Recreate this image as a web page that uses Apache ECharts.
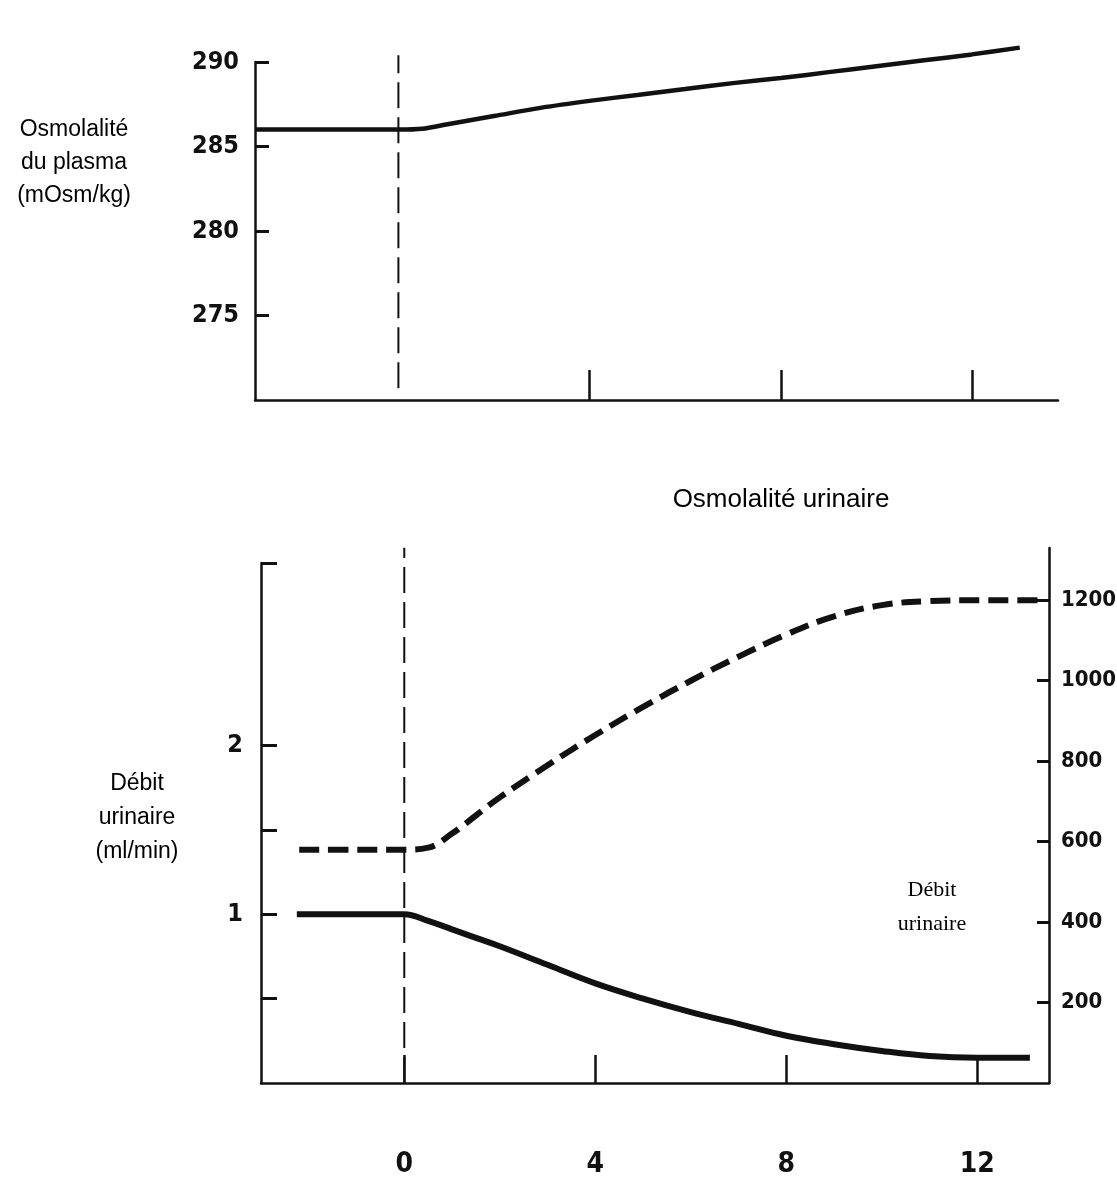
<!DOCTYPE html>
<html>
<head>
<meta charset="utf-8">
<script src="https://cdn.jsdelivr.net/npm/echarts@6/dist/echarts.min.js"></script>
<style>
html,body{margin:0;padding:0;background:#fff;}
#chart{width:1117px;height:1191px;}
</style>
</head>
<body>
<div id="chart"></div>
<script>
// ---- data ----
const timeTop = [-3, -2, -1, 0, 0.5, 1, 2, 3, 4, 5, 6, 7, 8, 9, 10, 11, 12, 13];
const plasmaOsm = [286, 286, 286, 286, 286.05, 286.3, 286.8, 287.3, 287.7, 288.05, 288.4, 288.75, 289.05, 289.4, 289.75, 290.1, 290.45, 290.85];

const timeFlow = [-2.25, -1, 0, 0.5, 1, 1.5, 2, 3, 4, 5, 6, 7, 8, 9, 10, 11, 12, 13.1];
const urineFlow = [1, 1, 1, 0.96, 0.91, 0.86, 0.81, 0.70, 0.59, 0.50, 0.42, 0.35, 0.28, 0.23, 0.19, 0.16, 0.15, 0.15];

const timeUOsm = [-2.2, -1, 0, 0.5, 1, 1.5, 2, 3, 4, 5, 6, 7, 8, 9, 10, 11, 12, 13.3];
const urineOsm = [580, 580, 580, 585, 620, 665, 710, 790, 865, 935, 1000, 1060, 1115, 1160, 1188, 1198, 1200, 1200];

const xTicksTop = [4, 8, 12];
const xTicksBottom = [0, 4, 8, 12];
const plasmaTicks = [275, 280, 285, 290];
const flowTicks = [0.5, 1, 1.5, 2, 3.08];
const flowLabels = [1, 2];
const uOsmTicks = [200, 400, 600, 800, 1000, 1200];
const startTime = 0;
const markerTop = [270.7, 290.4];
const markerBottom = [0, 3.17];

const INK = '#111';
const numFont = '"Liberation Sans Narrow", "DejaVu Sans Condensed", "Liberation Sans", sans-serif';
const fmt = v => String(v);

const chart = echarts.init(document.getElementById('chart'));

const yAxisCommon = {
  type: 'value',
  splitLine: {show: false},
  axisLine: {show: true, onZero: false, lineStyle: {color: INK, width: 2.5}},
  axisTick: {show: true, inside: true, length: 14, lineStyle: {color: INK, width: 3}},
  axisLabel: {color: INK, fontSize: 25, fontWeight: 'bold', fontFamily: numFont, margin: 16, formatter: fmt}
};

chart.setOption({
  animation: false,
  backgroundColor: '#fff',
  grid: [
    {left: 255, right: 59, top: 62, height: 338, outerBoundsMode: 'none'},
    {left: 261, right: 68, top: 563, height: 520, outerBoundsMode: 'none'},
    {left: 261, right: 68, top: 548, height: 535, outerBoundsMode: 'none'}
  ],
  xAxis: [
    {gridIndex: 0, type: 'value', min: -3, max: 13.8,
     axisLine: {onZero: false, lineStyle: {color: INK, width: 2.5}},
     axisTick: {show: true, inside: true, length: 30, customValues: xTicksTop, lineStyle: {color: INK, width: 2.5}},
     axisLabel: {show: false}, splitLine: {show: false}},
    {gridIndex: 1, type: 'value', min: -3, max: 13.5,
     axisLine: {onZero: false, lineStyle: {color: INK, width: 2.5}},
     axisTick: {show: true, inside: true, length: 28, customValues: xTicksBottom, lineStyle: {color: INK, width: 2.5}},
     axisLabel: {show: true, customValues: xTicksBottom, color: INK, fontSize: 28, fontWeight: 'bold', fontFamily: numFont, margin: 68, formatter: fmt},
     splitLine: {show: false}},
    {gridIndex: 2, type: 'value', min: -3, max: 13.5, show: false}
  ],
  yAxis: [
    Object.assign({}, yAxisCommon, {gridIndex: 0, min: 270, max: 290,
      axisTick: Object.assign({}, yAxisCommon.axisTick, {customValues: plasmaTicks}),
      axisLabel: Object.assign({}, yAxisCommon.axisLabel, {customValues: plasmaTicks})}),
    Object.assign({}, yAxisCommon, {gridIndex: 1, min: 0, max: 3.08,
      axisTick: Object.assign({}, yAxisCommon.axisTick, {customValues: flowTicks, length: 16}),
      axisLabel: Object.assign({}, yAxisCommon.axisLabel, {customValues: flowLabels, margin: 18})}),
    Object.assign({}, yAxisCommon, {gridIndex: 2, min: 0, max: 1330, position: 'right',
      axisTick: Object.assign({}, yAxisCommon.axisTick, {customValues: uOsmTicks, length: 12}),
      axisLabel: Object.assign({}, yAxisCommon.axisLabel, {customValues: uOsmTicks, margin: 12, fontSize: 22})})
  ],
  series: [
    {type: 'line', xAxisIndex: 0, yAxisIndex: 0, smooth: 0.3, showSymbol: false, clip: false,
     lineStyle: {color: INK, width: 4.5},
     data: timeTop.map((t, i) => [t, plasmaOsm[i]])},
    {type: 'line', xAxisIndex: 0, yAxisIndex: 0, showSymbol: false, clip: false,
     lineStyle: {color: INK, width: 2, type: [26, 9]},
     data: markerTop.map(v => [startTime, v])},
    {type: 'line', xAxisIndex: 1, yAxisIndex: 1, smooth: 0.4, showSymbol: false,
     lineStyle: {color: INK, width: 6},
     data: timeFlow.map((t, i) => [t, urineFlow[i]])},
    {type: 'line', xAxisIndex: 1, yAxisIndex: 1, showSymbol: false, clip: false,
     lineStyle: {color: INK, width: 2, type: [26, 9]},
     data: markerBottom.map(v => [startTime, v])},
    {type: 'line', xAxisIndex: 2, yAxisIndex: 2, smooth: 0.4, showSymbol: false,
     lineStyle: {color: INK, width: 6, type: [20, 9]},
     data: timeUOsm.map((t, i) => [t, urineOsm[i]])}
  ],
  graphic: [
    {type: 'text', x: 74, y: 163, style: {text: 'Osmolalité\ndu plasma\n(mOsm/kg)', fill: '#000', font: '23px "Liberation Sans", Arial, sans-serif', textAlign: 'center', textVerticalAlign: 'middle', lineHeight: 33}},
    {type: 'text', x: 781, y: 500, style: {text: 'Osmolalité urinaire', fill: '#000', font: '26px "Liberation Sans", Arial, sans-serif', textAlign: 'center', textVerticalAlign: 'middle'}},
    {type: 'text', x: 137, y: 818, style: {text: 'Débit\nurinaire\n(ml/min)', fill: '#000', font: '23px "Liberation Sans", Arial, sans-serif', textAlign: 'center', textVerticalAlign: 'middle', lineHeight: 34}},
    {type: 'text', x: 932, y: 907, style: {text: 'Débit\nurinaire', fill: '#000', font: '22px "Liberation Serif", "Times New Roman", serif', textAlign: 'center', textVerticalAlign: 'middle', lineHeight: 34}}
  ]
});
</script>
</body>
</html>
